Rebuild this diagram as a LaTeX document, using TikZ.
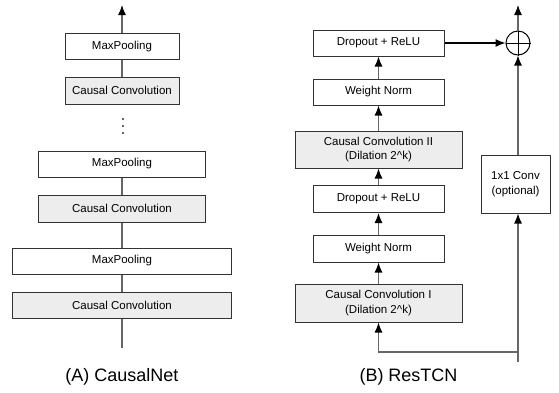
\documentclass[tikz,border=0pt]{standalone}
\usepackage{fontspec}
\setmainfont{Liberation Sans}
\usetikzlibrary{arrows.meta}
\begin{document}
\begin{tikzpicture}[x=1pt,y=-1pt,
  box/.style={draw=black!80, line width=1pt, minimum height=26pt, inner sep=0pt,
    font=\fontsize{11.5}{14.5}\selectfont, align=center, fill=white},
  convbox/.style={box, fill=black!7},
  ln/.style={draw=black!60, line width=1.2pt},
  arr/.style={ln, -{Latex[length=10pt,width=8pt,color=black]}},
  lbl/.style={font=\fontsize{18}{20}\selectfont}
]
\useasboundingbox (0,0) rectangle (559,392);

% ---------- (A) CausalNet ----------
\node[box, minimum width=114pt] (mp1) at (122,46.5) {MaxPooling};
\node[convbox, minimum width=114pt, minimum height=27pt] (cc1) at (122,90.5) {Causal Convolution};
\node[box, minimum width=167pt] (mp2) at (122,164) {MaxPooling};
\node[convbox, minimum width=167pt, minimum height=27pt] (cc2) at (122,208.5) {Causal Convolution};
\node[box, minimum width=219pt] (mp3) at (122,261) {MaxPooling};
\node[convbox, minimum width=219pt] (cc3) at (122,305) {Causal Convolution};
\coordinate (ltop) at (122,5);
\coordinate (lbot) at (122,348);
\fill[black!80] (123,119) circle (1.2) (123,126) circle (1.2) (123,133) circle (1.2);

\draw[arr] (mp1.north) -- (ltop);
\draw[ln] (cc1.north) -- (mp1.south);
\draw[ln] (cc2.north) -- (mp2.south);
\draw[ln] (mp3.north) -- (cc2.south);
\draw[ln] (cc3.north) -- (mp3.south);
\draw[ln] (lbot) -- (cc3.south);

\node[lbl] (la) at (122,377) {(A) CausalNet};

% ---------- (B) ResTCN ----------
\node[box, minimum width=131pt] (dr1) at (378.5,43) {Dropout + ReLU};
\node[box, minimum width=131pt] (wn1) at (378.5,92) {Weight Norm};
\node[convbox, minimum width=167pt, minimum height=37pt] (cc2r) at (378.5,149.5) {Causal Convolution II\\(Dilation 2\^{}k)};
\node[box, minimum width=131pt, minimum height=27pt] (dr2) at (378.5,199) {Dropout + ReLU};
\node[box, minimum width=131pt, minimum height=27pt] (wn2) at (378.5,248.5) {Weight Norm};
\node[convbox, minimum width=167pt, minimum height=38pt] (cc1r) at (378.5,303) {Causal Convolution I\\(Dilation 2\^{}k)};
\node[box, minimum width=69pt, minimum height=58pt] (conv) at (515.5,184) {1x1 Conv\\(optional)};
\node[draw=black, line width=1pt, circle, minimum size=24pt, inner sep=0pt] (plus) at (518,43) {};
\draw[line width=1pt] (plus.north) -- (plus.south) (plus.west) -- (plus.east);

\coordinate (rtop) at (518,5);
\coordinate (j) at (518,352);
\coordinate (jb) at (518,362);

\draw[arr] (cc1r.north) -- (wn2.south);
\draw[arr] (wn2.north) -- (dr2.south);
\draw[arr] (dr2.north) -- (cc2r.south);
\draw[arr] (cc2r.north) -- (wn1.south);
\draw[arr] (wn1.north) -- (dr1.south);
\draw[arr, draw=black] (dr1.east) -- (plus.west);
\draw[arr] (plus |- conv.north) -- (plus.south);
\draw[arr] (plus.north) -- (rtop);
\draw[arr] (jb) -- (plus |- conv.south);
\draw[arr] (j) -- (j -| cc1r.south) -- (cc1r.south);

\node[lbl] (lb) at (408.5,377) {(B) ResTCN};
\end{tikzpicture}
\end{document}
